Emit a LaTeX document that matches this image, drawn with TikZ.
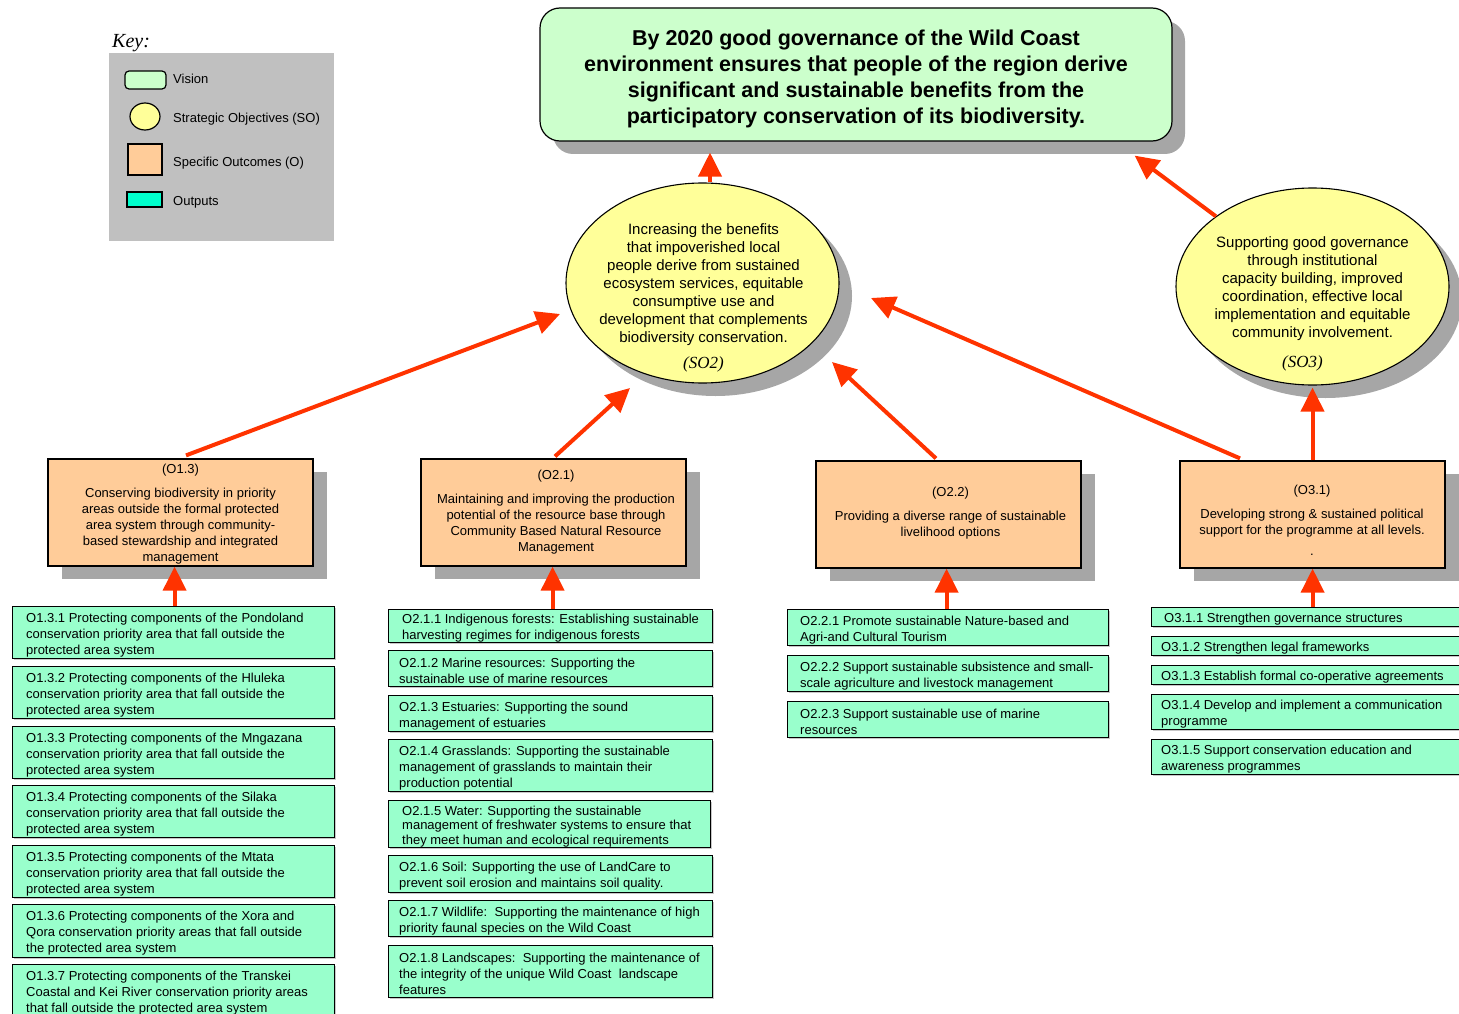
\documentclass[tikz,border=0pt]{standalone}
\usepackage{fontspec}
\setmainfont{Liberation Sans}
\newfontfamily\timesit{Liberation Serif}
\usetikzlibrary{arrows.meta,shapes.geometric,shadows,calc}
\definecolor{visfill}{HTML}{CCFFCC}
\definecolor{sofill}{HTML}{FFFF99}
\definecolor{ofill}{HTML}{FFCC99}
\definecolor{outfill}{HTML}{99FFCC}
\definecolor{keyout}{HTML}{00FFCC}
\definecolor{keygray}{HTML}{C0C0C0}
\definecolor{shgray}{HTML}{A6A6A6}
\definecolor{arrred}{HTML}{FF3300}
\tikzset{
  bigshadow/.style={general shadow={fill=shgray, shadow xshift=13pt, shadow yshift=-13pt}},
  visionbox/.style={rectangle, rounded corners=20pt, draw=black, line width=1.2pt, fill=visfill, inner sep=0pt, bigshadow},
  sobox/.style={ellipse, draw=black, line width=1.1pt, fill=sofill, inner sep=0pt, minimum width=273pt, bigshadow},
  obox/.style={rectangle, draw=black, line width=1.2pt, fill=ofill, inner sep=0pt, minimum width=265pt, minimum height=107pt,
     general shadow={fill=shgray, shadow xshift=14pt, shadow yshift=-13pt}},
  outbox/.style={rectangle, draw=black, line width=1.2pt, fill=outfill, inner sep=0pt,
     general shadow={fill=black!22, shadow xshift=1.5pt, shadow yshift=-1.5pt}},
  outtxt/.style={inner sep=0pt, align=left, font=\fontsize{13}{16}\selectfont, yshift=-2.5pt},
  otxt/.style={inner sep=0pt, align=center, font=\fontsize{13}{16}\selectfont, yshift=-2pt},
  sotxt/.style={inner sep=0pt, align=center, font=\fontsize{15}{18}\selectfont, yshift=-1pt},
  sotag/.style={inner sep=0pt, font=\timesit\itshape\fontsize{17}{20}\selectfont, yshift=-2pt},
  keytxt/.style={inner sep=0pt, anchor=base west, font=\fontsize{13}{16}\selectfont},
  keysym/.style={draw=black, line width=1.2pt, inner sep=0pt},
  arr/.style={draw=arrred, line width=4pt, -{Triangle[width=23pt,length=24pt]}}
}
\newcommand{\mkout}[7]{%
  \node[outbox, minimum width=#4pt, minimum height=#5pt, anchor=north west] (#1) at (#2,#3) {};
  \node[outtxt, anchor=west] (#1t) at ([xshift=#6pt]#1.west) {#7};}
\begin{document}
\begin{tikzpicture}[x=1pt,y=-1pt]
\useasboundingbox (0,0) rectangle (1459,1014);

% ---------- Key ----------
\node[fill=keygray, minimum width=225pt, minimum height=188pt, inner sep=0pt, anchor=north west] (keybg) at (109,53) {};
\node[anchor=base west, inner sep=0pt, font=\timesit\itshape\fontsize{20}{24}\selectfont] (keyt) at (112,48) {Key:};
\node[keysym, rectangle, rounded corners=4pt, fill=visfill, minimum width=41pt, minimum height=18pt] (kvis) at (145.5,80) {};
\node[keytxt] (kvisl) at (173,83.5) {Vision};
\node[keysym, ellipse, fill=sofill, minimum width=30pt, minimum height=27pt] (kso) at (145,116.5) {};
\node[keytxt] (ksol) at (173,123) {Strategic Objectives (SO)};
\node[keysym, rectangle, fill=ofill, minimum width=34pt, minimum height=31pt] (ko) at (145,159.5) {};
\node[keytxt] (kol) at (173,167) {Specific Outcomes (O)};
\node[keysym, rectangle, fill=keyout, minimum width=35pt, minimum height=15pt] (kout) at (144.5,199.5) {};
\node[keytxt] (koutl) at (173,205.5) {Outputs};

% ---------- Vision ----------
\node[visionbox, minimum width=632pt, minimum height=133pt] (vision) at (856,74.5) {};
\node[inner sep=0pt, align=center, font=\fontsize{21.5}{26}\selectfont\bfseries] (vtext) at (856,78.5)
  {By 2020 good governance of the Wild Coast\\environment ensures that people of the region derive\\significant and sustainable benefits from the\\participatory conservation of its biodiversity.};

% ---------- Strategic objectives ----------
\node[sobox, minimum height=200pt] (so2) at (702.5,283) {};
\node[sotxt] (so2t) at (703.5,283.5) {Increasing the benefits\\that impoverished local\\people derive from sustained\\ecosystem services, equitable\\consumptive use and\\development that complements\\biodiversity conservation.};
\node[sotag] (so2tag) at (703.5,362.5) {(SO2)};

\node[sobox, minimum height=197pt] (so3) at (1312.5,286.5) {};
\node[sotxt] (so3t) at (1312.5,287.5) {Supporting good governance\\through institutional\\capacity building, improved\\coordination, effective local\\implementation and equitable\\community involvement.};
\node[sotag] (so3tag) at (1302.5,361.5) {(SO3)};

% ---------- Specific outcomes ----------
\node[obox] (o13) at (180.5,512.5) {};
\node[otxt] (o13t) at (180.5,512.5) {(O1.3)\\[8pt]Conserving biodiversity in priority\\areas outside the formal protected\\area system through community-\\based stewardship and integrated\\management};
\node[obox] (o21) at (553.5,512.5) {};
\node[otxt] (o21t) at (556,510.5) {(O2.1)\\[8pt]Maintaining and improving the production\\potential of the resource base through\\Community Based Natural Resource\\Management};
\node[obox] (o22) at (948.5,514.5) {};
\node[otxt] (o22t) at (950.5,511.5) {(O2.2)\\[8pt]Providing a diverse range of sustainable\\livelihood options};
\node[obox] (o31) at (1312.5,514.5) {};
\node[otxt] (o31t) at (1312,518.5) {(O3.1)\\[8pt]Developing strong \& sustained political\\support for the programme at all levels.\\[4.5pt].};

% ---------- Outputs column 1 ----------
\mkout{o131}{12}{606}{322}{52}{14}{O1.3.1 Protecting components of the Pondoland\\conservation priority area that fall outside the\\protected area system}
\mkout{o132}{12}{666}{322}{52}{14}{O1.3.2 Protecting components of the Hluleka\\conservation priority area that fall outside the\\protected area system}
\mkout{o133}{12}{726}{322}{52}{14}{O1.3.3 Protecting components of the Mngazana\\conservation priority area that fall outside the\\protected area system}
\mkout{o134}{12}{785}{322}{52}{14}{O1.3.4 Protecting components of the Silaka\\conservation priority area that fall outside the\\protected area system}
\mkout{o135}{12}{845}{322}{52}{14}{O1.3.5 Protecting components of the Mtata\\conservation priority area that fall outside the\\protected area system}
\mkout{o136}{12}{904}{322}{53}{14}{O1.3.6 Protecting components of the Xora and\\Qora conservation priority areas that fall outside\\the protected area system}
\mkout{o137}{12}{964}{322}{52}{14}{O1.3.7 Protecting components of the Transkei\\Coastal and Kei River conservation priority areas\\that fall outside the protected area system}

% ---------- Outputs column 2 ----------
\mkout{o211}{388}{609}{324}{33}{14}{O2.1.1 Indigenous forests: Establishing sustainable\\harvesting regimes for indigenous forests}
\mkout{o212}{388}{650}{324}{36}{11}{O2.1.2 Marine resources: Supporting the\\sustainable use of marine resources}
\mkout{o213}{388}{695}{324}{36}{11}{O2.1.3 Estuaries: Supporting the sound\\management of estuaries}
\mkout{o214}{388}{739}{324}{52}{11}{O2.1.4 Grasslands: Supporting the sustainable\\management of grasslands to maintain their\\production potential}
\node[outbox, minimum width=322pt, minimum height=47pt, anchor=north west] (o215) at (388,800) {};
\node[outtxt, anchor=west, font=\fontsize{13}{14.5}\selectfont] (o215t) at ([xshift=14pt]o215.west)
  {O2.1.5 Water: Supporting the sustainable\\management of freshwater systems to ensure that\\they meet human and ecological requirements};
\mkout{o216}{388}{855}{324}{37}{11}{O2.1.6 Soil: Supporting the use of LandCare to\\prevent soil erosion and maintains soil quality.}
\mkout{o217}{388}{900}{324}{36}{11}{O2.1.7 Wildlife:\ \ Supporting the maintenance of high\\priority faunal species on the Wild Coast}
\mkout{o218}{388}{945}{324}{52}{11}{O2.1.8 Landscapes:\ \ Supporting the maintenance of\\the integrity of the unique Wild Coast\ \ landscape\\features}

% ---------- Outputs column 3 ----------
\mkout{o221}{787}{609}{321}{36}{13}{O2.2.1 Promote sustainable Nature-based and\\Agri-and Cultural Tourism}
\mkout{o222}{787}{655}{321}{36}{13}{O2.2.2 Support sustainable subsistence and small-\\scale agriculture and livestock management}
\mkout{o223}{787}{701}{321}{36}{13}{O2.2.3 Support sustainable use of marine\\resources}

% ---------- Outputs column 4 ----------
\mkout{o311}{1151}{607}{320}{19}{13}{O3.1.1 Strengthen governance structures}
\mkout{o312}{1151}{636}{320}{19}{10}{O3.1.2 Strengthen legal frameworks}
\mkout{o313}{1151}{665}{320}{19}{10}{O3.1.3 Establish formal co-operative agreements}
\mkout{o314}{1151}{694}{320}{35}{10}{O3.1.4 Develop and implement a communication\\programme}
\mkout{o315}{1151}{739}{320}{35}{10}{O3.1.5 Support conservation education and\\awareness programmes}

% ---------- Connectors ----------
\draw[arr, shorten >=11pt] ([xshift=7.5pt]so2.north) -- ([xshift=7.5pt]so2.north |- vision.south);
\draw[arr] (so3.144.5) -- ($(vision.south east)+(-38,14)$);
\draw[arr] ($(o13.north)+(5.5,-3)$) -- ($(so2.center)+(-142.5,31)$);
\draw[arr] ($(o21.north)+(1.5,-2)$) -- ($(so2.center)+(-72.5,105)$);
\draw[arr] ($(o22.north)+(-12.5,-2)$) -- ($(so2.center)+(129.5,79)$);
\draw[arr] ($(o31.north)+(-72.5,-2)$) -- ($(so2.center)+(168.5,15)$);
\draw[arr] (o31.north) -- ($(so3.south)+(0,2)$);

\draw[arr] ([xshift=1pt]o131.north) -- ([xshift=1pt]o131.north |- o13.south);
\draw[arr] ([xshift=2pt]o211.north) -- ([xshift=2pt]o211.north |- o21.south);
\draw[arr] ([xshift=-1.5pt]o221.north) -- ([xshift=-1.5pt]o221.north |- o22.south);
\draw[arr] ([xshift=1pt]o311.north) -- ([xshift=1pt]o311.north |- o31.south);
\end{tikzpicture}
\end{document}
